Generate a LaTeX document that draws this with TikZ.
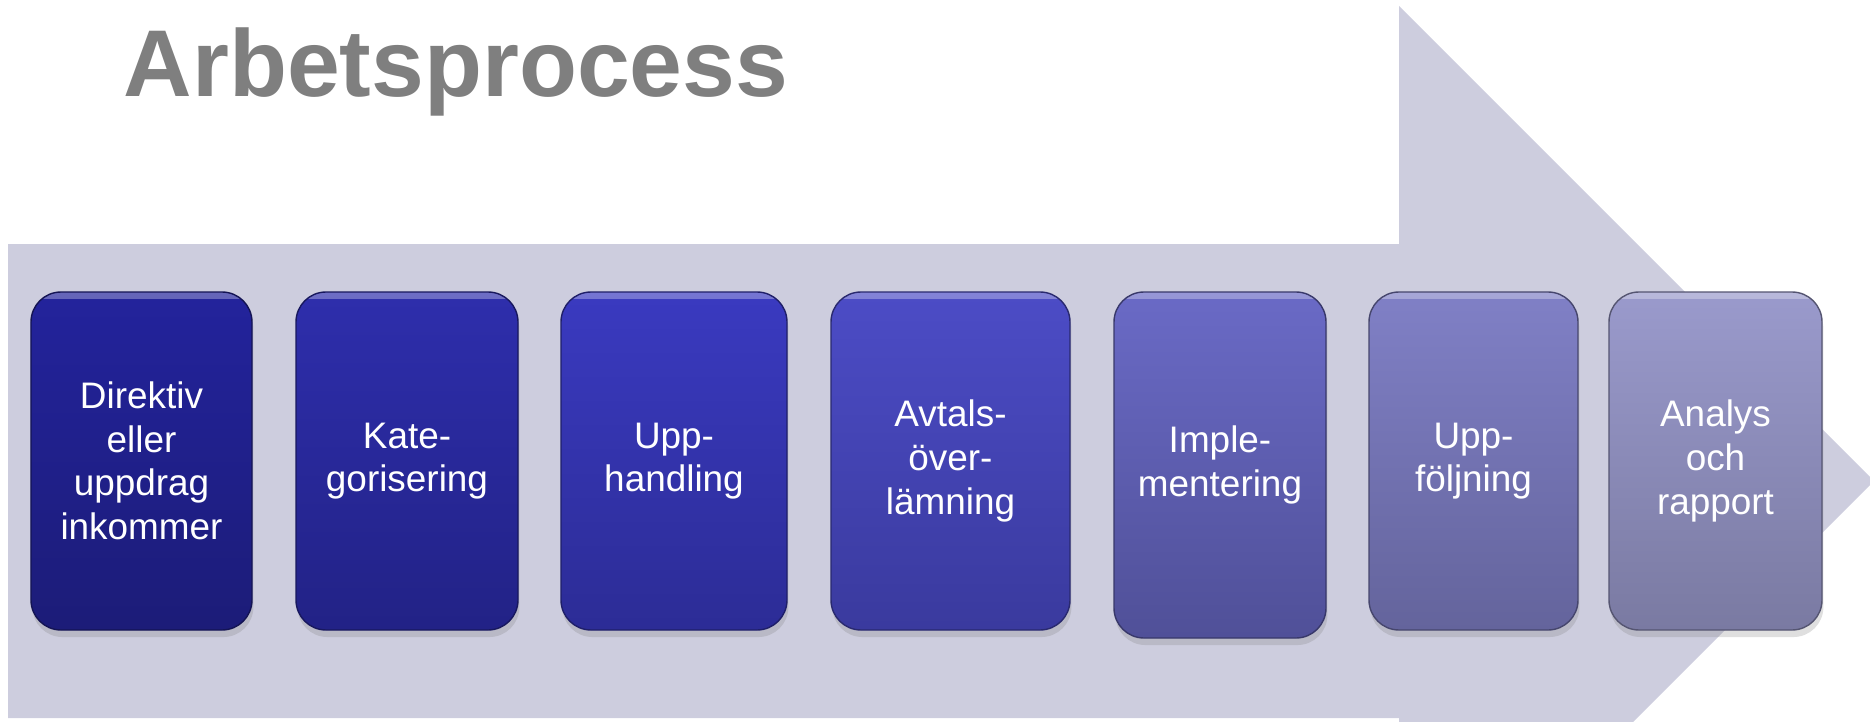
\documentclass[tikz,border=0pt]{standalone}
\usepackage{fontspec}
\setmainfont{Liberation Sans}
\usepackage{xcolor}
\usepackage{tikz}
\usetikzlibrary{shadows}

\definecolor{arrowgray}{RGB}{205,205,222}
\definecolor{titlegray}{RGB}{127,127,127}
\definecolor{boxatop}{RGB}{35,35,156}
\definecolor{boxabot}{RGB}{28,28,120}
\definecolor{boxbtop}{RGB}{46,46,172}
\definecolor{boxbbot}{RGB}{34,34,134}
\definecolor{boxctop}{RGB}{58,58,192}
\definecolor{boxcbot}{RGB}{44,44,150}
\definecolor{boxdtop}{RGB}{76,76,198}
\definecolor{boxdbot}{RGB}{58,58,158}
\definecolor{boxetop}{RGB}{106,106,198}
\definecolor{boxebot}{RGB}{80,80,152}
\definecolor{boxftop}{RGB}{128,128,198}
\definecolor{boxfbot}{RGB}{100,100,156}
\definecolor{boxgtop}{RGB}{154,154,204}
\definecolor{boxgbot}{RGB}{122,122,162}

\tikzset{
  stage/.style 2 args={rounded corners=0.3cm, minimum height=3.38cm,
    top color=#1, bottom color=#2, draw=#2!70!black, line width=0.4pt,
    text=white, align=center, font=\fontsize{10.5}{12.4}\selectfont,
    drop shadow={shadow xshift=0.4pt, shadow yshift=-2pt, opacity=0.25},
    path picture={\draw[white, opacity=0.3, line width=2pt]
      ([yshift=-1pt]path picture bounding box.north west)
      -- ([yshift=-1pt]path picture bounding box.north east);}},
  heading/.style={anchor=base west, inner sep=0pt, text=titlegray,
    font=\fontsize{27}{32}\selectfont\bfseries}
}

\begin{document}
\begin{tikzpicture}
\useasboundingbox (0, 0) rectangle (18.7, 7.21);

\begin{scope}
\clip (0, 0) rectangle (18.7, 7.21);
\fill[arrowgray] (0.08, 4.77) -- (13.99, 4.77) -- (13.99, 7.15) -- (18.74, 2.4)
  -- (13.99, -2.35) -- (13.99, 0.03) -- (0.08, 0.03) -- cycle;
\end{scope}

\node[heading] (titel) at (1.23, 6.24) {Arbetsprocess};

\node[stage={boxatop}{boxabot}, minimum width=2.21cm] (direktiv) at (1.415, 2.6)
  {Direktiv\\eller\\uppdrag\\inkommer};
\node[stage={boxbtop}{boxbbot}, minimum width=2.22cm] (kategori) at (4.07, 2.6)
  {Kate-\\gorisering};
\node[stage={boxctop}{boxcbot}, minimum width=2.26cm] (upphandling) at (6.74, 2.6)
  {Upp-\\handling};
\node[stage={boxdtop}{boxdbot}, minimum width=2.39cm] (avtal) at (9.505, 2.6)
  {Avtals-\\över-\\lämning};
\node[stage={boxetop}{boxebot}, minimum width=2.12cm, minimum height=3.46cm]
  (implement) at (12.2, 2.56) {Imple-\\mentering};
\node[stage={boxftop}{boxfbot}, minimum width=2.09cm] (uppfoljning) at (14.735, 2.6)
  {Upp-\\följning};
\node[stage={boxgtop}{boxgbot}, minimum width=2.13cm] (analys) at (17.155, 2.6)
  {Analys\\och\\rapport};
\end{tikzpicture}
\end{document}
